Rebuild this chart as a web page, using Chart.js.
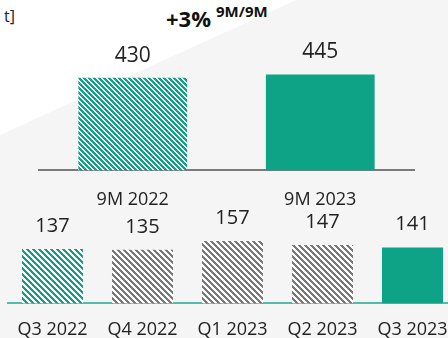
<!DOCTYPE html>
<html>
<head>
<meta charset="utf-8">
<script src="https://cdn.jsdelivr.net/npm/chart.js@4"></script>
<style>
  html, body { margin: 0; padding: 0; }
  body {
    width: 448px; height: 338px; overflow: hidden; position: relative;
    background: #f5f5f5; font-family: 'Open Sans', sans-serif;
  }
  .corner {
    position: absolute; left: 0; top: 0; width: 296px; height: 135px;
    background: #fff; clip-path: polygon(0 0, 100% 0, 0 100%);
  }
  .unit { position: absolute; left: 4px; top: 5px; font-size: 16px; color: #222; }
  .growth { position: absolute; left: 166px; top: 3px; font-size: 22px; font-weight: bold; color: #111; }
  .growth sup { font-size: 15px; position: relative; top: -2px; margin-left: 5px; }
  #topWrap { position: absolute; left: 0; top: 0; width: 448px; height: 234px; }
  #bottomWrap { position: absolute; left: 0; top: 205px; width: 470px; height: 152px; }
</style>
</head>
<body>
<div class="corner"></div>
<div class="unit">t]</div>
<div class="growth">+3%<sup>9M/9M</sup></div>
<div id="topWrap"><canvas id="topChart"></canvas></div>
<div id="bottomWrap"><canvas id="bottomChart"></canvas></div>

<script>
// Data
const topLabels = ['9M 2022', '9M 2023'];
const topValues = [430, 445];
const quarterLabels = ['Q3 2022', 'Q4 2022', 'Q1 2023', 'Q2 2023', 'Q3 2023'];
const quarterValues = [137, 135, 157, 147, 141];

const TEAL = '#0ea386';
const GREY = '#7a7a7a';

Chart.defaults.font.family = "'Open Sans', sans-serif";
Chart.defaults.color = '#222';

// Diagonal stripe pattern (pixel stripes, "\" direction)
function stripes(color, period) {
  const c = document.createElement('canvas');
  c.width = period; c.height = period;
  const ctx = c.getContext('2d');
  ctx.fillStyle = '#fff';
  ctx.fillRect(0, 0, period, period);
  ctx.fillStyle = color;
  for (let x = 0; x < period; x++) {
    for (let y = 0; y < period; y++) {
      if (((x - y + period) % period) < period / 2) ctx.fillRect(x, y, 1, 1);
    }
  }
  return ctx.createPattern(c, 'repeat');
}

// Value labels above each bar
function valueLabels(size, offset) {
  return {
    id: 'valueLabels',
    afterDatasetsDraw(chart) {
      const ctx = chart.ctx;
      const meta = chart.getDatasetMeta(0);
      const data = chart.data.datasets[0].data;
      ctx.save();
      ctx.font = size + "px 'Open Sans', sans-serif";
      ctx.fillStyle = '#222';
      ctx.textAlign = 'center';
      ctx.textBaseline = 'middle';
      meta.data.forEach(function (bar, i) {
        ctx.fillText(String(data[i]), bar.x, bar.y - offset);
      });
      ctx.restore();
    }
  };
}

// 1. 9M comparison
new Chart(document.getElementById('topChart'), {
  type: 'bar',
  data: {
    labels: topLabels,
    datasets: [{
      data: topValues,
      backgroundColor: [stripes(TEAL, 5), TEAL],
      barPercentage: 0.58,
      categoryPercentage: 1
    }]
  },
  options: {
    responsive: true,
    maintainAspectRatio: false,
    animation: false,
    layout: { padding: { left: 39, right: 34, top: 41, bottom: 4 } },
    plugins: { legend: { display: false }, tooltip: { enabled: false } },
    scales: {
      y: { display: false, min: 0, max: 600 },
      x: {
        grid: { display: false, drawTicks: false },
        border: { display: true, color: GREY, width: 2 },
        ticks: { padding: 19, font: { size: 18 }, color: '#222', maxRotation: 0 }
      }
    }
  },
  plugins: [valueLabels(21, 22)]
});

// 2. Quarterly bars
new Chart(document.getElementById('bottomChart'), {
  type: 'bar',
  data: {
    labels: quarterLabels,
    datasets: [{
      data: quarterValues,
      backgroundColor: [stripes(TEAL, 6), stripes(GREY, 6), stripes(GREY, 6), stripes(GREY, 6), TEAL],
      barPercentage: 0.678,
      categoryPercentage: 1
    }]
  },
  options: {
    responsive: true,
    maintainAspectRatio: false,
    animation: false,
    layout: { padding: { left: 7.5, right: 12.5, top: 19, bottom: 0 } },
    plugins: { legend: { display: false }, tooltip: { enabled: false } },
    scales: {
      y: { display: false, min: 0, max: 200 },
      x: {
        grid: { display: false, drawTicks: false },
        border: { display: true, color: '#4fbfaa', width: 2 },
        ticks: { padding: 16, font: { size: 18 }, color: '#222', maxRotation: 0, autoSkip: false }
      }
    }
  },
  plugins: [valueLabels(20, 23)]
});
</script>
</body>
</html>
